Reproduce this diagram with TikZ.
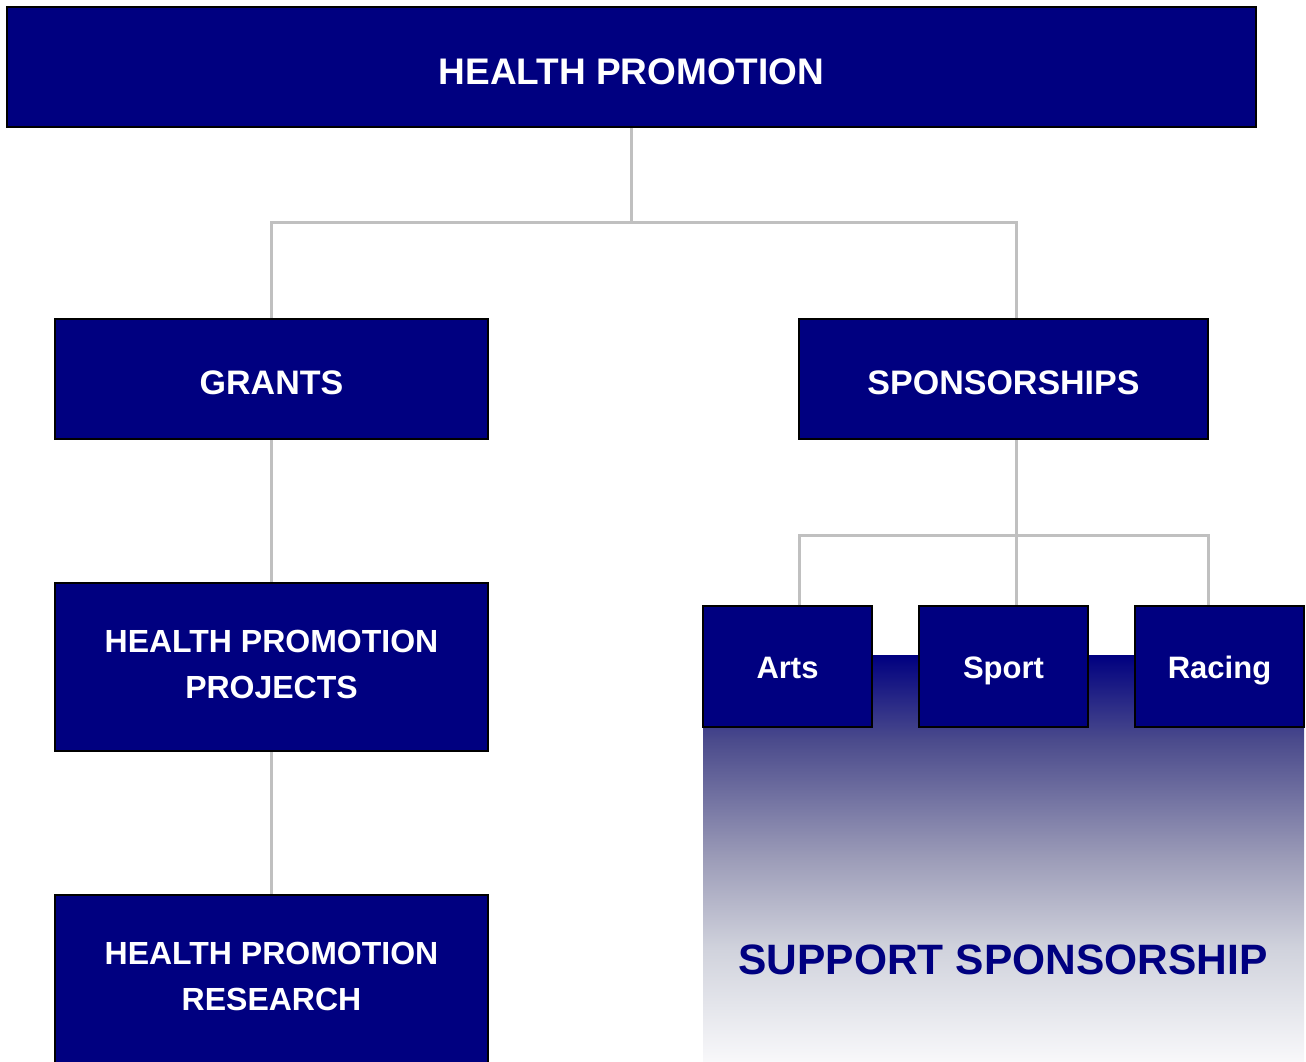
\documentclass[tikz,border=0pt]{standalone}
\usepackage{fontspec}
\setmainfont{Liberation Sans}
\definecolor{navyb}{HTML}{000080}
\definecolor{connc}{HTML}{C0C0C0}
\definecolor{gA}{HTML}{F8F8FA}
\definecolor{gB}{HTML}{D0D2DC}
\definecolor{gC}{HTML}{9C9CB8}
\definecolor{gD}{HTML}{4B4B8C}
\pgfdeclareverticalshading{suppshade}{100bp}{color(0bp)=(gA); color(25bp)=(gA); color(39bp)=(gB); color(50bp)=(gC); color(64.5bp)=(gD); color(75bp)=(navyb); color(100bp)=(navyb)}
\newcommand{\twolines}[3]{\raisebox{0pt}[\height][\dimexpr\depth+#3\relax]{\begin{tabular}{@{}c@{}}#1\\#2\end{tabular}}}
\begin{document}
\begin{tikzpicture}[x=1pt,y=-1pt,
  box/.style={draw=black,line width=2pt,fill=navyb,text=white,inner sep=0pt,align=center,font=\bfseries},
  conn/.style={draw=connc,line width=3pt}]
\useasboundingbox (0,0) rectangle (1306,1062);
% gradient background
\fill[shading=suppshade] (703,655) rectangle (1304,1062);
% nodes
\node[box,minimum width=1249pt,minimum height=120pt,text height=34.5pt,text depth=0pt,font=\bfseries\fontsize{37}{44}\selectfont] (top) at (631.5,67) {HEALTH PROMOTION};
\node[box,minimum width=433pt,minimum height=120pt,text height=30.3pt,text depth=0pt,font=\bfseries\fontsize{34}{40}\selectfont] (grants) at (271.5,379) {GRANTS};
\node[box,minimum width=409pt,minimum height=120pt,text height=30.3pt,text depth=0pt,font=\bfseries\fontsize{34}{40}\selectfont] (spons) at (1003.5,379) {SPONSORSHIPS};
\node[box,minimum width=433pt,minimum height=168pt,font=\bfseries\fontsize{32}{46}\selectfont] (proj) at (271.5,667) {\twolines{HEALTH PROMOTION}{PROJECTS}{2pt}};
\node[box,minimum width=433pt,minimum height=172pt,font=\bfseries\fontsize{32}{46}\selectfont] (res) at (271.5,981) {\twolines{HEALTH PROMOTION}{RESEARCH}{6pt}};
\node[box,minimum width=169pt,minimum height=121pt,text height=23.2pt,text depth=0pt,font=\bfseries\fontsize{31}{37}\selectfont] (arts) at (787.5,666.5) {Arts};
\node[box,minimum width=169pt,minimum height=121pt,text height=23.2pt,text depth=0pt,font=\bfseries\fontsize{31}{37}\selectfont] (sport) at (1003.5,666.5) {Sport};
\node[box,minimum width=169pt,minimum height=121pt,text height=23.2pt,text depth=0pt,font=\bfseries\fontsize{31}{37}\selectfont] (racing) at (1219.5,666.5) {Racing};
\node[text=navyb,font=\bfseries\fontsize{42.5}{50}\selectfont,inner sep=0pt] (supp) at (1003,960) {SUPPORT SPONSORSHIP};
% connector columns
\coordinate (sx) at (1016,0);
\coordinate (ax) at (799,0);
\coordinate (rx) at (1208,0);
\coordinate (j1) at (631.5,222);
\coordinate (j2) at (1016,535);
% connectors
\draw[conn] (top.south) -- (j1);
\draw[conn] (grants.north) |- (j1) -| (spons.north -| sx);
\draw[conn] (grants.south) -- (proj.north);
\draw[conn] (proj.south) -- (res.north);
\draw[conn] (spons.south -| sx) -- (sport.north -| sx);
\draw[conn] (arts.north -| ax) |- (j2) -| (racing.north -| rx);
\end{tikzpicture}
\end{document}
